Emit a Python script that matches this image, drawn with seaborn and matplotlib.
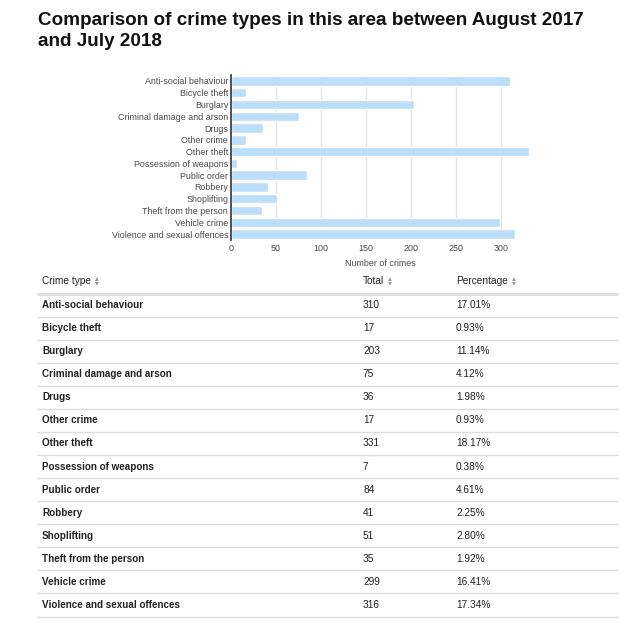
import matplotlib
matplotlib.use("Agg")
import matplotlib.pyplot as plt
import seaborn as sns
import pandas as pd

crime_types = ["Anti-social behaviour", "Bicycle theft", "Burglary",
               "Criminal damage and arson", "Drugs", "Other crime",
               "Other theft", "Possession of weapons", "Public order",
               "Robbery", "Shoplifting", "Theft from the person",
               "Vehicle crime", "Violence and sexual offences"]
totals = [310, 17, 203, 75, 36, 17, 331, 7, 84, 41, 51, 35, 299, 316]
percentages = ["17.01%", "0.93%", "11.14%", "4.12%", "1.98%", "0.93%",
               "18.17%", "0.38%", "4.61%", "2.25%", "2.80%", "1.92%",
               "16.41%", "17.34%"]
x_ticks = [0, 50, 100, 150, 200, 250, 300]
headers = ["Crime type", "Total", "Percentage"]
title = "Comparison of crime types in this area between August 2017\nand July 2018"

sns.set_theme(style="white")
plt.rcParams['font.family'] = ['Liberation Sans', 'DejaVu Sans']

W, H = 636, 640
fig = plt.figure(figsize=(W / 100, H / 100), dpi=100)

# background overlay in pixel coordinates
bg = fig.add_axes([0, 0, 1, 1])
bg.set_xlim(0, W)
bg.set_ylim(H, 0)
bg.axis("off")

# title
bg.text(38, 12, title, fontsize=13.6, fontweight="bold", color="#111111",
        va="top", ha="left", linespacing=1.3)

# bar chart
x0, x1 = 231, 231 + 332 * 0.9
y_top, y_bot = 75, 240
ax = fig.add_axes([x0 / W, 1 - y_bot / H, (x1 - x0) / W, (y_bot - y_top) / H])
df = pd.DataFrame({"crime": crime_types, "total": totals})
sns.barplot(data=df, x="total", y="crime", orient="h", color="#bbdefb",
            saturation=1, width=0.8, ax=ax, zorder=2)
ax.set_xlim(0, 332)
ax.set_xticks(x_ticks)
ax.set_xticklabels([str(t) for t in x_ticks])
for t in x_ticks[1:]:
    ax.axvline(t, color="#e4e4e4", lw=1, zorder=1)
for s in ["top", "right", "bottom"]:
    ax.spines[s].set_visible(False)
ax.spines["left"].set_color("#333333")
ax.spines["left"].set_linewidth(1.2)
ax.spines["left"].set_zorder(3)
ax.tick_params(axis="both", length=0, labelsize=6.4, labelcolor="#4a4a4a")
ax.tick_params(axis="y", pad=2)
ax.tick_params(axis="x", pad=3)
ax.set_ylabel("")
ax.set_xlabel("Number of crimes", fontsize=6.4, color="#4a4a4a", labelpad=4)
ax.grid(False)

# table
col_x = [42, 363, 456]
header_y = 281
text_color = "#222222"
fig.canvas.draw()
renderer = fig.canvas.get_renderer()
inv = bg.transData.inverted()
for cx, h in zip(col_x, headers):
    t = bg.text(cx, header_y, h, fontsize=7.3, color=text_color,
                va="center", ha="left")
    bb = t.get_window_extent(renderer=renderer)
    xe = inv.transform((bb.x1, bb.y0))[0]
    bg.text(xe + 4, header_y - 1, "\u25b4\n\u25be", fontsize=5.6, color="#999999",
            va="center", ha="left", family="DejaVu Sans", linespacing=0.45)

bg.plot([37, 618], [293.5, 293.5], color="#dddddd", lw=2, solid_capstyle="butt")
row_h = 23.08
first_row = 305
for i, (c, tot, p) in enumerate(zip(crime_types, totals, percentages)):
    y = first_row + i * row_h
    bg.text(col_x[0], y, c, fontsize=7.1, fontweight="bold", color=text_color,
            va="center", ha="left")
    bg.text(col_x[1], y, str(tot), fontsize=7.3, color=text_color,
            va="center", ha="left")
    bg.text(col_x[2], y, p, fontsize=7.3, color=text_color,
            va="center", ha="left")
    ly = y + 11.5
    bg.plot([37, 618], [ly, ly], color="#dddddd", lw=1,
            solid_capstyle="butt")

fig.savefig("out.png", dpi=100, facecolor="white")
